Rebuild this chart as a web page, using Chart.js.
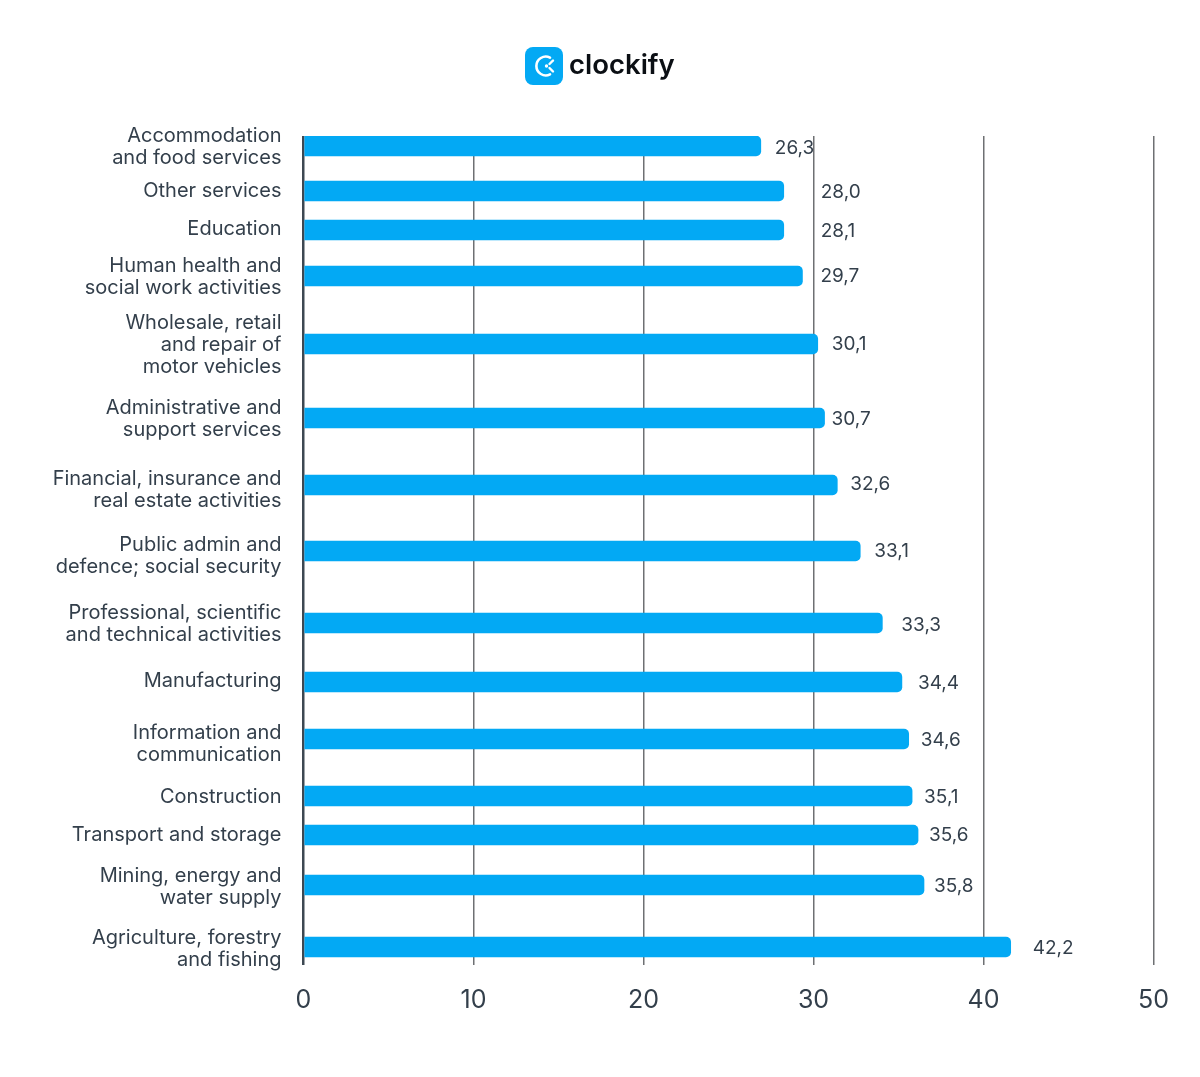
<!DOCTYPE html>
<html>
<head>
<meta charset="utf-8">
<title>Average working hours by sector</title>
<script src="https://cdn.jsdelivr.net/npm/chart.js@4"></script>
<style>
  body { margin: 0; background: #fff; }
  #wrap { position: relative; width: 1200px; height: 1077px; }
  #chart { display: block; }
  #logo { position: absolute; left: 525px; top: 45px; display: flex; align-items: center; height: 38px; }
  #logo svg { position: relative; top: 2px; }
  #logo span { font: 600 27.5px Inter, sans-serif; color: #0b0f14; margin-left: 6px; }
</style>
</head>
<body>
<div id="wrap">
  <canvas id="chart" width="1200" height="1077"></canvas>
  <div id="logo">
    <svg width="38" height="38" viewBox="0 0 38 38">
      <rect width="38" height="38" rx="8" fill="#03a9f4"/>
      <path d="M25 10.6 A9.4 9.4 0 1 0 25 27.4" fill="none" stroke="#fff" stroke-width="2.6" stroke-linecap="round"/>
      <path d="M28 13.5 L24.5 17" fill="none" stroke="#fff" stroke-width="2.4" stroke-linecap="round"/>
      <path d="M24.5 21 L28 24.5" fill="none" stroke="#fff" stroke-width="2.4" stroke-linecap="round"/>
      <circle cx="21.5" cy="19" r="1.7" fill="#fff"/>
    </svg>
    <span>clockify</span>
  </div>
</div>
<script>
const categories = [
  ["Accommodation", "and food services"],
  "Other services",
  "Education",
  ["Human health and", "social work activities"],
  ["Wholesale, retail", "and repair of", "motor vehicles"],
  ["Administrative and", "support services"],
  ["Financial, insurance and", "real estate activities"],
  ["Public admin and", "defence; social security"],
  ["Professional, scientific", "and technical activities"],
  "Manufacturing",
  ["Information and", "communication"],
  "Construction",
  "Transport and storage",
  ["Mining, energy and", "water supply"],
  ["Agriculture, forestry", "and fishing"]
];
// bar lengths as drawn (they do not quite agree with the printed labels)
const barValues = [26.9, 28.25, 28.25, 29.35, 30.25, 30.65, 31.4, 32.75, 34.05, 35.2, 35.6, 35.8, 36.15, 36.5, 41.6];
const valueLabels = ["26,3", "28,0", "28,1", "29,7", "30,1", "30,7", "32,6", "33,1", "33,3", "34,4", "34,6", "35,1", "35,6", "35,8", "42,2"];
// rows are unevenly spaced in the source
const barRows = [1.0, 5.5, 9.4, 14.0, 20.8, 28.2, 34.9, 41.5, 48.7, 54.6, 60.3, 66.0, 69.9, 74.9, 81.1];
const labelRows = [1.1, 5.5, 9.3, 14.1, 20.9, 28.3, 35.4, 42.0, 48.8, 54.5, 60.8, 66.1, 69.9, 75.1, 81.3];
const xTicks = [0, 10, 20, 30, 40, 50];

const textColor = "#333f4b";

const valueLabelPlugin = {
  id: "valueLabelPlugin",
  afterDatasetsDraw(chart, args, opts) {
    const ctx = chart.ctx;
    const meta = chart.getDatasetMeta(0);
    ctx.save();
    ctx.font = "19px Inter, sans-serif";
    ctx.fillStyle = textColor;
    ctx.textBaseline = "middle";
    meta.data.forEach((bar, i) => {
      ctx.fillText(valueLabels[i], bar.x + opts.gaps[i], bar.y + opts.shifts[i]);
    });
    ctx.restore();
  }
};

new Chart(document.getElementById("chart"), {
  type: "bar",
  plugins: [valueLabelPlugin],
  data: {
    datasets: [{
      data: barValues.map((v, i) => ({ x: v, y: barRows[i] })),
      backgroundColor: "#03a9f4",
      barThickness: 20,
      borderRadius: 5,
      borderSkipped: "start"
    }]
  },
  options: {
    indexAxis: "y",
    responsive: false,
    animation: false,
    layout: { padding: { top: 136, right: 46.5, left: 0, bottom: 0 } },
    plugins: {
      legend: { display: false },
      tooltip: { enabled: false },
      valueLabelPlugin: {
        gaps: [14, 37, 37, 18, 14, 7, 13, 14, 19, 16, 12, 12, 11, 10, 22],
        shifts: [2, 1, 1, 0, 0, 1, -1, 0, 2, 1, 1, 1, 0, 1, 1]
      }
    },
    scales: {
      x: {
        type: "linear",
        min: 0,
        max: 50,
        afterFit: (axis) => { axis.height = 112; },
        afterBuildTicks: (axis) => { axis.ticks = xTicks.map(value => ({ value })); },
        border: { display: false },
        grid: {
          drawTicks: false,
          color: (c) => c.tick.value === 0 ? "#3d4852" : "#6e7073",
          lineWidth: (c) => c.tick.value === 0 ? 2.5 : 1.5
        },
        ticks: { color: textColor, padding: 20, font: { family: "Inter", size: 25 } }
      },
      y: {
        type: "linear",
        reverse: true,
        offset: false,
        min: 0,
        max: 82.9,
        afterFit: (axis) => { axis.width = 303.5; },
        afterBuildTicks: (axis) => { axis.ticks = labelRows.map(value => ({ value })); },
        border: { display: false },
        grid: { display: false, offset: false },
        ticks: {
          autoSkip: false,
          color: textColor,
          padding: 14,
          font: { family: "Inter", size: 20, lineHeight: 1.1 },
          callback: (value, i) => categories[i]
        }
      }
    }
  }
});
</script>
</body>
</html>
